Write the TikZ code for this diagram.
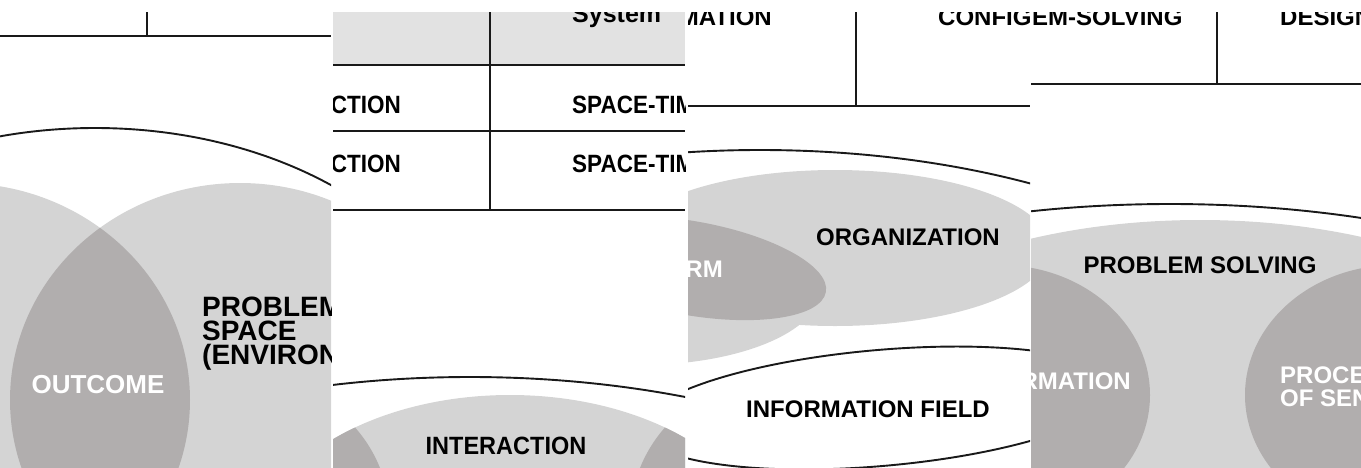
\documentclass[tikz,border=0pt]{standalone}
\usepackage{fontspec}
\setmainfont{Liberation Sans}
\usetikzlibrary{positioning}
\definecolor{lightfill}{RGB}{212,212,212}
\definecolor{darkfill}{RGB}{177,174,174}
\definecolor{headfill}{RGB}{226,226,226}
\definecolor{inkline}{RGB}{25,25,25}

\begin{document}
\begin{tikzpicture}[x=1pt,y=-1pt,
    rule/.style={draw=inkline,line width=2.4pt},
    rim/.style={draw=inkline,line width=1.9pt},
    label/.style={font=\bfseries\fontsize{24}{24}\selectfont,inner sep=0pt},
    whitelabel/.style={label,text=white},
    tablelabel/.style={label,font=\bfseries\fontsize{25}{25}\selectfont,xscale=.9}]

  \useasboundingbox (0,0) rectangle (1361,467);

  % first crop: outcome / problem space
  \begin{scope}
    \clip (0,12) rectangle (331,467);
    \draw[rule] (0,36) -- (331,36);
    \draw[rule] (147,12) -- (147,36);
    \fill[lightfill] (-40,400) ellipse [x radius=230pt,y radius=217pt];
    \fill[lightfill] (240,400) ellipse [x radius=230pt,y radius=217pt];
    \begin{scope}
      \clip (-40,400) ellipse [x radius=230pt,y radius=217pt];
      \fill[darkfill] (240,400) ellipse [x radius=230pt,y radius=217pt];
    \end{scope}
    \draw[rim] (95,400) ellipse [x radius=385pt,y radius=272pt];
    \node[whitelabel,font=\bfseries\fontsize{26}{26}\selectfont,anchor=base]
      (outcome) at (98,393) {OUTCOME};
    \node[label,font=\bfseries\fontsize{28}{24}\selectfont,align=left,anchor=north west]
      (problemspace) at (202,297) {PROBLEM\\SPACE\\(ENVIRONMENT)};
  \end{scope}

  % second crop: table and interaction
  \begin{scope}
    \clip (333,12) rectangle (685,467);
    \fill[headfill] (333,12) rectangle (685,65);
    \draw[rule] (333,65) -- (685,65);
    \draw[rule] (333,131) -- (685,131);
    \draw[rule] (333,210) -- (685,210);
    \draw[rule] (490,12) -- (490,210);
    \node[label,font=\bfseries\fontsize{25}{25}\selectfont,anchor=base west]
      (systemhead) at (572,22) {System};
    \node[tablelabel,anchor=base east] (rowoneleft) at (401,113) {ACTION};
    \node[tablelabel,anchor=base west] (rowoneright) at (572,113) {SPACE-TIM};
    \node[tablelabel,anchor=base east] (rowtwoleft) at (401,172) {ACTION};
    \node[tablelabel,anchor=base west] (rowtworight) at (572,172) {SPACE-TIM};
    \draw[rim] (470,700) ellipse [x radius=620pt,y radius=323pt];
    \fill[lightfill] (510,560) ellipse [x radius=260pt,y radius=165pt];
    \begin{scope}
      \clip (510,560) ellipse [x radius=260pt,y radius=165pt];
      \fill[darkfill] (250,520) circle [radius=140pt];
      \fill[darkfill] (770,520) circle [radius=140pt];
    \end{scope}
    \node[label,font=\bfseries\fontsize{25}{25}\selectfont,xscale=.94]
      (interaction) at (506,446) {INTERACTION};
  \end{scope}

  % third crop: organization and information field
  \begin{scope}
    \clip (688,12) rectangle (1030,467);
    \draw[rule] (688,106) -- (1030,106);
    \draw[rule] (856,12) -- (856,106);
    \node[label,anchor=base east] (infohead) at (772,25) {MATION};
    \node[label,anchor=base west] (confighead) at (938,25) {CONFIG};
    \draw[rim] (760,420) ellipse [x radius=560pt,y radius=270pt];
    \fill[lightfill] (640,290) ellipse [x radius=180pt,y radius=75pt];
    \fill[lightfill] (835,248) ellipse [x radius=215pt,y radius=78pt];
    \fill[darkfill,rotate around={-10:(690,268)}]
      (690,268) ellipse [x radius=138pt,y radius=47pt];
    \node[whitelabel,anchor=base east] (form) at (723,277) {RM};
    \node[label] (organization) at (908,237) {ORGANIZATION};
    \filldraw[fill=white,rim,rotate around={5:(880,408)}]
      (880,408) ellipse [x radius=240pt,y radius=58pt];
    \node[label] (infofield) at (868,409) {INFORMATION FIELD};
  \end{scope}

  % fourth crop: problem solving
  \begin{scope}
    \clip (1031,12) rectangle (1361,467);
    \draw[rule] (1031,84) -- (1361,84);
    \draw[rule] (1217,12) -- (1217,84);
    \node[label,anchor=base west] (solvinghead) at (1032,25) {EM-SOLVING};
    \node[label,anchor=base west] (designhead) at (1280,25) {DESIGN};
    \draw[rim] (1170,500) ellipse [x radius=628pt,y radius=296pt];
    \fill[lightfill] (1200,420) ellipse [x radius=400pt,y radius=200pt];
    \begin{scope}
      \clip (1200,420) ellipse [x radius=400pt,y radius=200pt];
      \fill[darkfill] (1000,395) ellipse [x radius=150pt,y radius=130pt];
      \fill[darkfill] (1395,395) ellipse [x radius=150pt,y radius=130pt];
    \end{scope}
    \node[label] (problemsolving) at (1200,265) {PROBLEM SOLVING};
    \node[whitelabel,anchor=base east] (information) at (1131,389) {RMATION};
    \node[whitelabel,font=\bfseries\fontsize{24}{23}\selectfont,align=left,anchor=north west]
      (sensemaking) at (1280,367) {PROCES\\OF SEN};
  \end{scope}

\end{tikzpicture}
\end{document}
